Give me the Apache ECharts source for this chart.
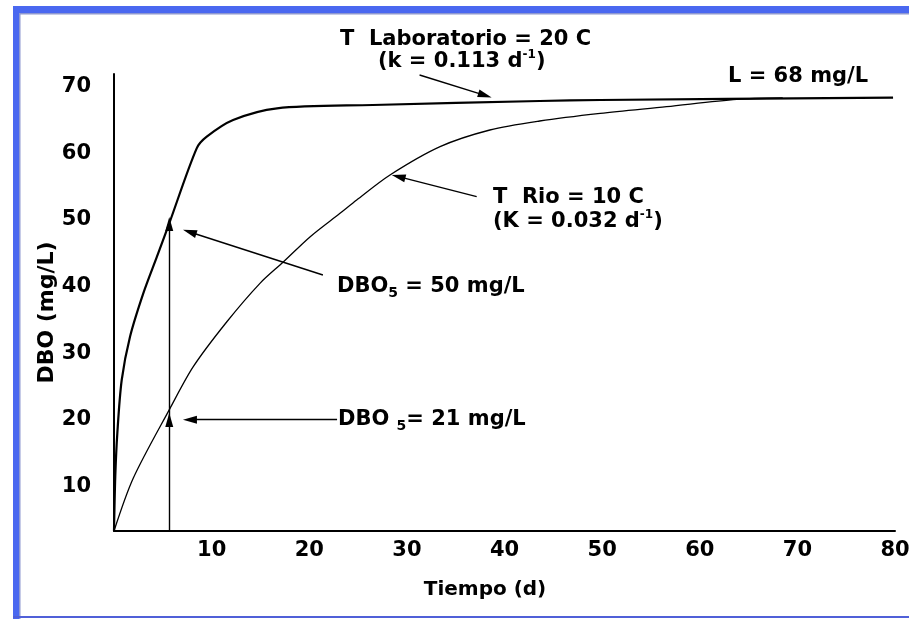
<!DOCTYPE html>
<html><head><meta charset="utf-8">
<script src="https://cdn.jsdelivr.net/npm/echarts@6/dist/echarts.min.js"></script>
<style>html,body{margin:0;padding:0;background:#fff}#c{width:909px;height:619px}</style>
</head><body><div id="c"></div>
<script>
// ---- data ----
const xTickValues = [10, 20, 30, 40, 50, 60, 70, 80];
const yTickValues = [10, 20, 30, 40, 50, 60, 70];

// Laboratorio curve (T = 20 C, k = 0.113 d-1)
const labDays = [0, 0.13, 0.34, 0.79, 1.64, 3.0, 4.37, 5.66, 8.47, 9.5, 12.2, 16.7, 26.5, 43.6, 49.8, 79.8];
const labBOD  = [3.35, 11.5, 18.0, 26.0, 32.5, 39.0, 44.4, 49.5, 60.75, 62.5, 65.0, 66.75, 67.25, 67.85, 68.0, 68.35];

// Rio curve (T = 10 C, K = 0.032 d-1)
const rioDays = [0, 1.98, 5.74, 8.12, 11.54, 14.95, 17.34, 20.1, 23.15, 24.86, 28.27, 33.4, 38.5, 43.6, 49.8, 56.6, 63.8, 68.5];
const rioBOD  = [3.35, 11.3, 21.75, 28.0, 34.7, 40.5, 43.7, 47.5, 51.0, 53.0, 56.75, 61.0, 63.5, 64.85, 66.0, 67.0, 68.1, 68.3];

// annotation arrows (data coordinates: [day, BOD]); "to" is the arrowhead centre
const arrowFrom = [[31.3, 71.75], [37.15, 53.5], [21.4, 41.75], [22.85, 20.05], [5.66, 3.35], [5.66, 20.0]];
const arrowTo   = [[38.0, 68.7],  [29.14, 56.5], [7.75, 48.2],  [7.78, 20.05],  [5.66, 20.0], [5.66, 49.4]];

// annotation texts
const noteTexts = [
  'T  Laboratorio = 20 C',
  '(k = 0.113 d{sup|-1})',
  'L = 68 mg/L',
  'T  Rio = 10 C',
  '(K = 0.032 d{sup|-1})',
  'DBO{sub|5} = 50 mg/L',
  'DBO {sub|5}= 21 mg/L'
];
const xName = 'Tiempo (d)';
const yName = 'DBO (mg/L)';

// ---- layout / style ----
const FONT = '"DejaVu Sans", "Liberation Sans", sans-serif';
const notePos = [[340, 40], [378, 62], [728, 77], [493, 198], [493, 222], [337, 287], [338, 420]];
const yMin = 3.35, yMax = 71.9;

const rich = {
  sup: { fontSize: 12, fontWeight: 'bold', fontFamily: FONT, fill: '#000', color: '#000', verticalAlign: 'top', lineHeight: 14 },
  sub: { fontSize: 14, fontWeight: 'bold', fontFamily: FONT, fill: '#000', color: '#000', verticalAlign: 'bottom', lineHeight: 14 }
};

const graphics = [
  { type: 'rect', shape: { x: 13, y: 6, width: 896, height: 7 }, style: { fill: '#4a68f0' }, z: 0, silent: true },
  { type: 'rect', shape: { x: 13, y: 6, width: 6, height: 613 }, style: { fill: '#4a68f0' }, z: 0, silent: true },
  { type: 'rect', shape: { x: 19, y: 13, width: 890, height: 1.5 }, style: { fill: '#8e98d0' }, z: 0, silent: true },
  { type: 'rect', shape: { x: 19, y: 13, width: 1.5, height: 606 }, style: { fill: '#8e98d0' }, z: 0, silent: true },
  { type: 'rect', shape: { x: 13, y: 616, width: 896, height: 2 }, style: { fill: '#5060d8' }, z: 0, silent: true }
];
noteTexts.forEach((t, i) => {
  graphics.push({
    type: 'text', x: notePos[i][0], y: notePos[i][1], silent: true, z: 10,
    style: {
      text: t, fill: '#000', align: 'left', verticalAlign: 'middle',
      font: 'bold 21px ' + FONT, lineHeight: 26, rich: rich
    }
  });
});

const chart = echarts.init(document.getElementById('c'), null, { renderer: 'canvas' });
chart.setOption({
  animation: false,
  backgroundColor: '#fff',
  grid: { left: 114, right: 14, top: 74, bottom: 88, outerBoundsMode: 'none' },
  xAxis: {
    type: 'value', min: 0, max: 80, interval: 10,
    name: xName, nameLocation: 'middle', nameGap: 49, nameMoveOverlap: false,
    nameTextStyle: { fontFamily: FONT, fontWeight: 'bold', fontSize: 20, color: '#000', padding: [0, 39, 0, 0] },
    axisLine: { show: true, onZero: false, lineStyle: { color: '#000', width: 2 } },
    axisTick: { show: false },
    splitLine: { show: false },
    axisLabel: {
      customValues: xTickValues, margin: 9,
      fontFamily: FONT, fontWeight: 'bold', fontSize: 21, color: '#000'
    }
  },
  yAxis: {
    type: 'value', min: yMin, max: yMax,
    name: yName, nameLocation: 'middle', nameGap: 56, nameMoveOverlap: false,
    nameTextStyle: { fontFamily: FONT, fontWeight: 'bold', fontSize: 22, color: '#000', padding: [0, 20, 0, 0] },
    axisLine: { show: true, onZero: false, lineStyle: { color: '#000', width: 2 } },
    axisTick: { show: false },
    splitLine: { show: false },
    axisLabel: {
      customValues: yTickValues, margin: 23,
      fontFamily: FONT, fontWeight: 'bold', fontSize: 21, color: '#000'
    }
  },
  series: [
    {
      name: 'Laboratorio', type: 'line', showSymbol: false, smooth: 0.3,
      data: labDays.map((d, i) => [d, labBOD[i]]),
      lineStyle: { color: '#000', width: 2.2 }, z: 3,
      markLine: {
        silent: true, animation: false,
        symbol: ['none', 'triangle'], symbolSize: [8, 14],
        lineStyle: { color: '#000', width: 1.4, type: 'solid' },
        label: { show: false },
        emphasis: { disabled: true },
        data: arrowFrom.map((f, i) => [{ coord: f }, { coord: arrowTo[i] }])
      }
    },
    {
      name: 'Rio', type: 'line', showSymbol: false, smooth: 0.3,
      data: rioDays.map((d, i) => [d, rioBOD[i]]),
      lineStyle: { color: '#000', width: 1.3 }, z: 2
    }
  ],
  graphic: graphics
});
</script>
</body></html>
